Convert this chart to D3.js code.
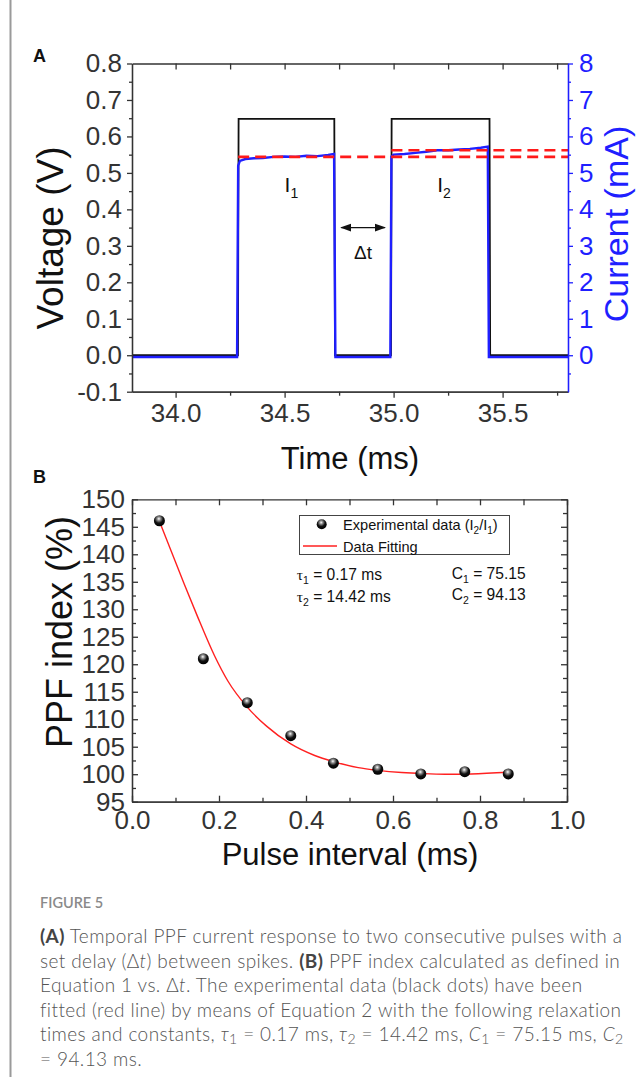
<!DOCTYPE html>
<html lang="en">
<head>
<meta charset="utf-8">
<title>Figure 5</title>
<script src="https://d3js.org/d3.v7.min.js"></script>
<style>
    body { margin: 0; background: #fff; }
    svg { display: block; }
    text { font-family: "Liberation Sans", Arial, sans-serif; }
    .caption { font-family: Lato, "Open Sans", sans-serif; font-weight: 300; font-size: 19px; letter-spacing: 0.4px; fill: #555; }
</style>
</head>
<body>
<svg width="643" height="1077"></svg>
<script>
// ---- panel A data ----
const timeTicks = [34.0, 34.5, 35.0, 35.5];
const voltTicks = [-0.1, 0.0, 0.1, 0.2, 0.3, 0.4, 0.5, 0.6, 0.7, 0.8];
const currTicks = [0, 1, 2, 3, 4, 5, 6, 7, 8];

const voltTime = [33.8, 34.286, 34.289, 34.5, 34.728, 34.731, 34.988, 34.991, 35.2, 35.440, 35.443, 35.8];
const voltage  = [0.0, 0.0, 0.648, 0.648, 0.648, 0.0, 0.0, 0.648, 0.648, 0.648, 0.0, 0.0];

const currTime = [33.8, 34.282, 34.287, 34.295, 34.32, 34.36, 34.40, 34.45, 34.50, 34.55, 34.60, 34.65, 34.70, 34.727,
                  34.733, 34.985, 34.990, 35.0, 35.05, 35.10, 35.15, 35.20, 35.25, 35.30, 35.35, 35.40, 35.432, 35.437, 35.8];
const current  = [-0.05, -0.05, 5.2, 5.33, 5.38, 5.40, 5.41, 5.44, 5.45, 5.44, 5.47, 5.46, 5.49, 5.52,
                  -0.05, -0.05, 5.45, 5.50, 5.52, 5.55, 5.58, 5.62, 5.62, 5.64, 5.66, 5.69, 5.72, -0.05, -0.05];

const refLevels = [5.44, 5.62];       // I1, I2 (mA)
const refStarts = [34.287, 34.990];   // start time of each dashed line

// ---- panel B data ----
const intervalTicks = [0.0, 0.2, 0.4, 0.6, 0.8, 1.0];
const ppfTicks = [95, 100, 105, 110, 115, 120, 125, 130, 135, 140, 145, 150];

const pulseInterval = [0.063, 0.164, 0.265, 0.365, 0.463, 0.565, 0.664, 0.765, 0.865];
const ppfIndex      = [146.1, 121.0, 113.0, 107.0, 102.0, 100.9, 100.05, 100.45, 100.05];

const fitInterval = [0.063, 0.09, 0.12, 0.15, 0.19, 0.22, 0.265, 0.31, 0.365, 0.42, 0.463, 0.52, 0.565, 0.62, 0.67, 0.72, 0.78, 0.865];
const fitIndex    = [146.0, 140.6, 134.6, 128.8, 121.5, 117.0, 112.2, 108.7, 105.5, 103.4, 102.3, 101.2, 100.7, 100.3, 100.1, 100.0, 100.05, 100.35];

const svg = d3.select("svg");
const axisColor = "#333";
const blue = "#1f1fff";

// left border rule
svg.append("line").attr("x1", 10.5).attr("x2", 10.5).attr("y1", 0).attr("y2", 1077)
   .attr("stroke", "#9a9a9a").attr("stroke-width", 2);

function styleAxis(g, color, size) {
    g.select(".domain").attr("stroke", color).attr("stroke-width", 1.3);
    g.selectAll(".tick line").attr("stroke", color).attr("stroke-width", 1.3);
    g.selectAll(".tick text").attr("fill", color)
     .style("font-size", (size || 26) + "px")
     .style("font-family", '"Liberation Sans", Arial, sans-serif');
    return g;
}
function minorOf(ticks) {
    const out = [];
    for (let i = 0; i < ticks.length - 1; i++) out.push((ticks[i] + ticks[i + 1]) / 2);
    return out;
}

// =================== PANEL A ===================
const xA = d3.scaleLinear().domain([33.8, 35.8]).range([132, 568]);
const yA = d3.scaleLinear().domain([-0.1, 0.8]).range([391.7, 63.5]);
const yI = d3.scaleLinear().domain([-1, 8]).range([391.7, 63.5]);

const timeMinor = minorOf(timeTicks).concat([35.75]);
const allTime = timeTicks.concat(timeMinor);

// traces
svg.append("path")
   .datum(voltTime.map((t, i) => [t, voltage[i]]))
   .attr("fill", "none").attr("stroke", "#111").attr("stroke-width", 1.8)
   .attr("d", d3.line().x(d => xA(d[0])).y(d => yA(d[1])));

svg.append("path")
   .datum(currTime.map((t, i) => [t, current[i]]))
   .attr("fill", "none").attr("stroke", blue).attr("stroke-width", 2.4)
   .attr("d", d3.line().x(d => xA(d[0])).y(d => yI(d[1])));

svg.selectAll(".ref")
   .data(refLevels)
   .enter()
   .append("line")
   .attr("x1", (d, i) => xA(refStarts[i]))
   .attr("x2", xA(35.8))
   .attr("y1", d => yI(d)).attr("y2", d => yI(d))
   .attr("stroke", "#ff1a1a").attr("stroke-width", 2.6)
   .attr("stroke-dasharray", "11,6");

// axes A
styleAxis(svg.append("g").attr("transform", "translate(0,391.7)")
   .call(d3.axisBottom(xA).tickValues(timeTicks).tickFormat(d => d.toFixed(1)).tickSize(6).tickSizeOuter(0).tickPadding(6)), axisColor);
styleAxis(svg.append("g").attr("transform", "translate(0,391.7)")
   .call(d3.axisBottom(xA).tickValues(timeMinor).tickFormat("").tickSize(4).tickSizeOuter(0)), axisColor);
styleAxis(svg.append("g").attr("transform", "translate(0,63.5)")
   .call(d3.axisTop(xA).tickValues(allTime).tickFormat("").tickSize(-6).tickSizeOuter(0)), axisColor);
styleAxis(svg.append("g").attr("transform", "translate(132,0)")
   .call(d3.axisLeft(yA).tickValues(voltTicks).tickFormat(d => d.toFixed(1)).tickSize(5).tickSizeOuter(0).tickPadding(5)), axisColor);
styleAxis(svg.append("g").attr("transform", "translate(132,0)")
   .call(d3.axisLeft(yA).tickValues(minorOf(voltTicks)).tickFormat("").tickSize(3).tickSizeOuter(0)), axisColor);
styleAxis(svg.append("g").attr("transform", "translate(568,0)")
   .call(d3.axisRight(yI).tickValues(currTicks).tickSize(5).tickSizeOuter(0).tickPadding(6)), blue);
styleAxis(svg.append("g").attr("transform", "translate(568,0)")
   .call(d3.axisRight(yI).tickValues([-0.5].concat(minorOf(currTicks))).tickFormat("").tickSize(3).tickSizeOuter(0)), blue);

// titles A
svg.append("text").attr("transform", "translate(63,238) rotate(-90)")
   .attr("text-anchor", "middle").style("font-size", "37px").attr("fill", "#111").text("Voltage (V)");
svg.append("text").attr("transform", "translate(628,224) rotate(-90)")
   .attr("text-anchor", "middle").style("font-size", "34px").attr("fill", blue).text("Current (mA)");
svg.append("text").attr("x", 350).attr("y", 469)
   .attr("text-anchor", "middle").style("font-size", "31px").attr("fill", "#111").text("Time (ms)");
svg.append("text").attr("x", 33).attr("y", 62)
   .style("font-size", "18px").style("font-weight", "bold").attr("fill", "#111").text("A");

// annotations A
function subLabel(x, y, main, sub) {
    const t = svg.append("text").attr("x", x).attr("y", y).style("font-size", "21px").attr("fill", "#111");
    t.append("tspan").text(main);
    t.append("tspan").attr("dy", 6).style("font-size", "14px").text(sub);
}
subLabel(xA(34.50), yA(0.447), "I", "1");
subLabel(xA(35.20), yA(0.447), "I", "2");

svg.append("defs").html(
    '<marker id="ah" viewBox="0 0 10 10" refX="9" refY="5" markerWidth="8" markerHeight="8" orient="auto-start-reverse">' +
    '<path d="M0,1.5 L10,5 L0,8.5 z" fill="#111"/></marker>' +
    '<radialGradient id="ball" cx="45%" cy="32%" r="65%">' +
    '<stop offset="0%" stop-color="#fff"/><stop offset="22%" stop-color="#9a9a9a"/>' +
    '<stop offset="60%" stop-color="#111"/><stop offset="100%" stop-color="#000"/></radialGradient>');

svg.append("line")
   .attr("x1", xA(34.76)).attr("x2", xA(34.96))
   .attr("y1", yA(0.35)).attr("y2", yA(0.35))
   .attr("stroke", "#111").attr("stroke-width", 1.4)
   .attr("marker-start", "url(#ah)").attr("marker-end", "url(#ah)");
svg.append("text").attr("x", xA(34.86)).attr("y", yA(0.265))
   .attr("text-anchor", "middle").style("font-size", "19px").attr("fill", "#111").text("\u0394t");

// =================== PANEL B ===================
const xB = d3.scaleLinear().domain([0, 1]).range([132, 567]);
const yB = d3.scaleLinear().domain([95, 150]).range([801.7, 499.3]);

svg.append("path")
   .datum(fitInterval.map((t, i) => [t, fitIndex[i]]))
   .attr("fill", "none").attr("stroke", "#ff2020").attr("stroke-width", 1.4)
   .attr("d", d3.line().curve(d3.curveMonotoneX).x(d => xB(d[0])).y(d => yB(d[1])));

svg.selectAll(".pt")
   .data(pulseInterval)
   .enter()
   .append("circle")
   .attr("cx", d => xB(d))
   .attr("cy", (d, i) => yB(ppfIndex[i]))
   .attr("r", 5.5)
   .attr("fill", "url(#ball)");

const intervalMinor = minorOf(intervalTicks);
const ppfMinor = minorOf(ppfTicks);

styleAxis(svg.append("g").attr("transform", "translate(0,801.7)")
   .call(d3.axisBottom(xB).tickValues(intervalTicks).tickFormat(d => d.toFixed(1)).tickSize(-6).tickSizeOuter(0).tickPadding(9)), axisColor);
styleAxis(svg.append("g").attr("transform", "translate(0,801.7)")
   .call(d3.axisBottom(xB).tickValues(intervalMinor).tickFormat("").tickSize(-4).tickSizeOuter(0)), axisColor);
styleAxis(svg.append("g").attr("transform", "translate(0,499.3)")
   .call(d3.axisTop(xB).tickValues(intervalTicks.concat(intervalMinor)).tickFormat("").tickSize(-6).tickSizeOuter(0)), axisColor);
styleAxis(svg.append("g").attr("transform", "translate(132,0)")
   .call(d3.axisLeft(yB).tickValues(ppfTicks).tickSize(-6).tickSizeOuter(0).tickPadding(7)), axisColor);
styleAxis(svg.append("g").attr("transform", "translate(132,0)")
   .call(d3.axisLeft(yB).tickValues(ppfMinor).tickFormat("").tickSize(-4).tickSizeOuter(0)), axisColor);
styleAxis(svg.append("g").attr("transform", "translate(567,0)")
   .call(d3.axisRight(yB).tickValues(ppfTicks).tickFormat("").tickSize(-6).tickSizeOuter(0)), axisColor);
styleAxis(svg.append("g").attr("transform", "translate(567,0)")
   .call(d3.axisRight(yB).tickValues(ppfMinor).tickFormat("").tickSize(-4).tickSizeOuter(0)), axisColor);

svg.append("text").attr("transform", "translate(72,632) rotate(-90)")
   .attr("text-anchor", "middle").style("font-size", "36px").attr("fill", "#111").text("PPF index (%)");
svg.append("text").attr("x", 350).attr("y", 865)
   .attr("text-anchor", "middle").style("font-size", "31px").attr("fill", "#111").text("Pulse interval (ms)");
svg.append("text").attr("x", 33).attr("y", 483)
   .style("font-size", "18px").style("font-weight", "bold").attr("fill", "#111").text("B");

// legend
svg.append("rect").attr("x", 299.5).attr("y", 515.5).attr("width", 210).attr("height", 39)
   .attr("fill", "#fff").attr("stroke", "#444").attr("stroke-width", 1);
svg.append("circle").attr("cx", 321.7).attr("cy", 524.3).attr("r", 5).attr("fill", "url(#ball)");
svg.append("line").attr("x1", 303).attr("x2", 337).attr("y1", 546).attr("y2", 546)
   .attr("stroke", "#ff2020").attr("stroke-width", 1.4);
const leg1 = svg.append("text").attr("x", 343).attr("y", 529.5).style("font-size", "14.6px").attr("fill", "#111");
leg1.append("tspan").text("Experimental data (I");
leg1.append("tspan").attr("dy", 4).style("font-size", "10px").text("2");
leg1.append("tspan").attr("dy", -4).text("/I");
leg1.append("tspan").attr("dy", 4).style("font-size", "10px").text("1");
leg1.append("tspan").attr("dy", -4).text(")");
svg.append("text").attr("x", 343).attr("y", 551.5).style("font-size", "14.6px").attr("fill", "#111").text("Data Fitting");

function paramText(x, y, sym, sub, rest, serif) {
    const t = svg.append("text").attr("x", x).attr("y", y).style("font-size", "15.6px").attr("fill", "#111");
    t.append("tspan").style("font-family", serif ? '"Liberation Serif", serif' : null).text(sym);
    t.append("tspan").attr("dy", 4).style("font-size", "10.5px").text(sub);
    t.append("tspan").attr("dy", -4).text(rest);
}
paramText(296.7, 580, "\u03C4", "1", " =  0.17 ms", true);
paramText(296.7, 602, "\u03C4", "2", " =  14.42 ms", true);
paramText(451.7, 578.5, "C", "1", " = 75.15", false);
paramText(451.7, 599.5, "C", "2", " = 94.13", false);

// =================== CAPTION ===================
svg.append("text").attr("x", 40).attr("y", 908)
   .style("font-family", 'Lato, "Open Sans", sans-serif').style("font-size", "14.5px")
   .style("font-weight", "600").attr("fill", "#8a8a8a").text("FIGURE 5");

const captionLines = [
    [["(A)", "b"], [" Temporal PPF current response to two consecutive pulses with a"]],
    [["set delay (\u0394"], ["t", "i"], [") between spikes. "], ["(B)", "b"], [" PPF index calculated as defined in"]],
    [["Equation 1 vs. \u0394"], ["t", "i"], [". The experimental data (black dots) have been"]],
    [["fitted (red line) by means of Equation 2 with the following relaxation"]],
    [["times and constants, "], ["\u03C4", "i"], ["1", "s"], [" = 0.17 ms, "], ["\u03C4", "i"], ["2", "s"], [" = 14.42 ms, "],
     ["C", "i"], ["1", "s"], [" = 75.15 ms, "], ["C", "i"], ["2", "s"]],
    [["= 94.13 ms."]]
];
captionLines.forEach((line, li) => {
    const t = svg.append("text").attr("class", "caption").attr("x", 40).attr("y", 943 + li * 24.5);
    let shifted = false;
    line.forEach(seg => {
        const ts = t.append("tspan").text(seg[0]);
        if (seg[1] === "b") ts.style("font-weight", "700").attr("fill", "#444");
        if (seg[1] === "i") ts.style("font-style", "italic");
        if (seg[1] === "s") { ts.attr("dy", 3).style("font-size", "14px"); shifted = true; }
        else if (shifted) { ts.attr("dy", -3); shifted = false; }
    });
});
</script>
</body>
</html>
